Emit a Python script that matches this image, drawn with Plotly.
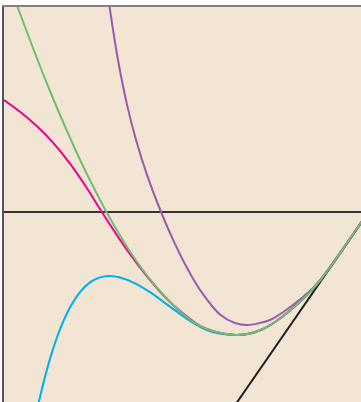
import plotly.graph_objects as go

# curve samples (x right, y up; y = 0 is the drawn axis)
green_x = [0.07, 0.14, 0.29, 0.46, 0.63, 0.79, 0.93, 1.03, 1.26, 1.49, 1.76, 1.96, 2.12, 2.32,
           2.46, 2.59, 2.71, 2.83, 3.03, 3.16, 3.36, 3.57, 3.64]
green_y = [2.24, 2.04, 1.64, 1.21, 0.81, 0.46, 0.18, -0.01, -0.395, -0.71, -0.995, -1.14, -1.20, -1.23,
           -1.215, -1.17, -1.10, -1.01, -0.83, -0.685, -0.41, -0.105, 0.00]

pink_x = [0.00, 0.16, 0.33, 0.49, 0.66, 0.83, 0.98, 1.23, 1.46, 1.66, 1.86, 1.96, 2.12, 2.32,
          2.46, 2.59, 2.71, 2.83, 3.03, 3.16, 3.36, 3.57, 3.64]
pink_y = [1.12, 1.002, 0.857, 0.694, 0.484, 0.237, -0.003, -0.38, -0.68, -0.90, -1.07, -1.14, -1.20, -1.23,
          -1.215, -1.17, -1.10, -1.01, -0.83, -0.685, -0.41, -0.105, 0.00]

cyan_x = [0.26, 0.35, 0.46, 0.56, 0.66, 0.76, 0.86, 0.96, 1.05, 1.16, 1.31, 1.46, 1.66, 1.86, 2.01, 2.14, 2.32,
          2.46, 2.59, 2.71, 2.83, 3.03, 3.16, 3.36, 3.57, 3.64]
cyan_y = [-2.31, -1.893, -1.469, -1.174, -0.956, -0.801, -0.704, -0.654, -0.64, -0.655, -0.713, -0.802,
          -0.946, -1.09, -1.173, -1.213, -1.23,
          -1.215, -1.17, -1.10, -1.01, -0.83, -0.685, -0.41, -0.105, 0.00]

purple_x = [1.03, 1.06, 1.14, 1.23, 1.32, 1.43, 1.57, 1.71, 1.85, 1.96, 2.16, 2.31, 2.43, 2.66, 2.89,
            3.09, 3.19, 3.36, 3.57, 3.64]
purple_y = [2.24, 2.024, 1.52, 1.074, 0.723, 0.371, 0.00, -0.319, -0.596, -0.778, -1.025, -1.11, -1.13,
            -1.08, -0.93, -0.76, -0.65, -0.415, -0.11, -0.005]

tangent_x = [2.26, 3.66]
tangent_y = [-2.005, 0.02]

x_range = [0, 3.57]
y_range = [-1.90, 2.05]

fig = go.Figure()
for xs, ys, color in (
    (tangent_x, tangent_y, "#231f20"),
    (purple_x, purple_y, "#9b59b0"),
    (cyan_x, cyan_y, "#00aeef"),
    (pink_x, pink_y, "#ec008c"),
    (green_x, green_y, "#6cc06e"),
):
    fig.add_trace(
        go.Scatter(
            x=xs,
            y=ys,
            mode="lines",
            line=dict(color=color, width=2, shape="spline", smoothing=0.8),
            hoverinfo="skip",
        )
    )

fig.update_layout(
    width=361,
    height=402,
    margin=dict(l=4, r=0, t=7, b=0),
    paper_bgcolor="white",
    plot_bgcolor="#f2e5d4",
    showlegend=False,
    xaxis=dict(
        range=x_range,
        side="top",
        showline=True,
        linecolor="#808080",
        linewidth=2,
        showgrid=False,
        zeroline=False,
        showticklabels=False,
        ticks="",
        fixedrange=True,
    ),
    yaxis=dict(
        range=y_range,
        showline=True,
        linecolor="#555555",
        linewidth=2,
        showgrid=False,
        zeroline=True,
        zerolinecolor="#333333",
        zerolinewidth=1.5,
        showticklabels=False,
        ticks="",
        fixedrange=True,
    ),
)

# drop the browser's default body margin so the figure sits at the page corner
fig.write_html(
    "out.html",
    config={"displayModeBar": False},
    post_script="document.body.style.margin = '0px';",
)
